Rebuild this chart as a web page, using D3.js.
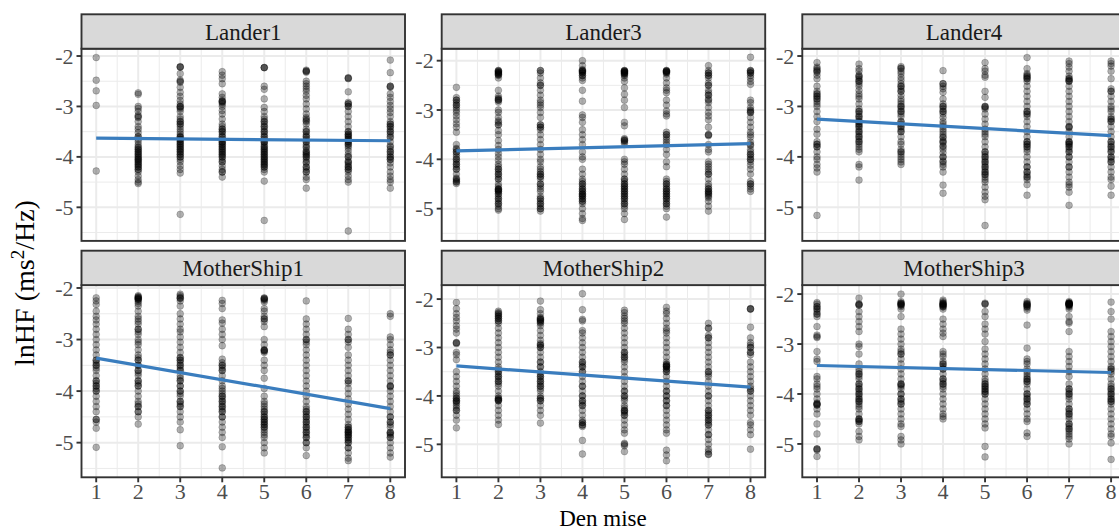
<!DOCTYPE html>
<html><head><meta charset="utf-8">
<script src="https://cdn.jsdelivr.net/npm/d3@7"></script>
<style>body{margin:0;background:#fff}svg{display:block}</style>
</head><body>
<svg id="chart" width="1119" height="531"></svg>
<script>
const panels = ["Lander1","Lander3","Lander4","MotherShip1","MotherShip2","MotherShip3"];
const xTicks = [1,2,3,4,5,6,7,8];
const yTicks = [-2,-3,-4,-5];
const yMinor = [-2.5,-3.5,-4.5,-5.5];
const xMinor = [1.5,2.5,3.5,4.5,5.5,6.5,7.5];
const yDomainLow  = [-5.666,-5.654,-5.666,-5.672,-5.681,-5.668];
const yDomainHigh = [-1.855,-1.757,-1.855,-1.944,-1.711,-1.820];
const fitAt1 = [-3.63,-3.83,-3.25,-3.36,-3.38,-3.43];
const fitAt8 = [-3.68,-3.68,-3.58,-4.34,-3.82,-3.57];

const lander1 = [
 [-2.03,-2.48,-2.69,-2.98,-4.28],
 [-2.73,-2.76,-3.0,-3.04,-3.1,-3.18,-3.22,-3.3,-3.4,-3.45,-3.52,-3.6,-3.65,-3.7,-3.76,-3.82,-3.86,-3.9,-3.94,-3.98,-4.02,-4.05,-4.08,-4.12,-4.16,-4.2,-4.25,-4.3,-4.38,-4.45,-4.5,-4.53],
 [-2.21,-2.22,-2.35,-2.48,-2.52,-2.62,-2.72,-2.8,-2.88,-2.95,-3.0,-3.02,-3.1,-3.2,-3.25,-3.3,-3.35,-3.4,-3.45,-3.5,-3.55,-3.6,-3.62,-3.66,-3.7,-3.74,-3.78,-3.82,-3.86,-3.9,-3.95,-4.0,-4.05,-4.1,-4.18,-4.25,-4.32,-5.14],
 [-2.31,-2.38,-2.45,-2.55,-2.75,-2.82,-2.88,-2.9,-2.95,-3.0,-3.08,-3.15,-3.25,-3.35,-3.4,-3.45,-3.5,-3.55,-3.6,-3.65,-3.7,-3.72,-3.76,-3.8,-3.84,-3.88,-3.92,-3.96,-4.0,-4.05,-4.1,-4.18,-4.25,-4.3,-4.4],
 [-2.23,-2.23,-2.6,-2.66,-2.85,-3.02,-3.1,-3.2,-3.25,-3.3,-3.35,-3.4,-3.45,-3.5,-3.55,-3.6,-3.65,-3.7,-3.72,-3.76,-3.8,-3.84,-3.88,-3.92,-3.96,-4.0,-4.04,-4.08,-4.12,-4.16,-4.2,-4.25,-4.3,-4.48,-5.26],
 [-2.28,-2.3,-2.5,-2.55,-2.6,-2.65,-2.7,-2.78,-2.85,-2.95,-3.05,-3.15,-3.22,-3.28,-3.35,-3.45,-3.5,-3.56,-3.6,-3.65,-3.7,-3.76,-3.82,-3.88,-3.92,-3.96,-4.0,-4.05,-4.12,-4.2,-4.25,-4.3,-4.4,-4.45,-4.62],
 [-2.43,-2.45,-2.71,-2.92,-2.95,-3.0,-3.1,-3.2,-3.3,-3.4,-3.5,-3.55,-3.58,-3.62,-3.66,-3.7,-3.74,-3.78,-3.82,-3.88,-3.95,-4.0,-4.08,-4.12,-4.16,-4.2,-4.25,-4.3,-4.38,-4.45,-4.5,-5.47],
 [-2.08,-2.33,-2.6,-2.62,-2.75,-2.82,-2.9,-2.98,-3.05,-3.12,-3.2,-3.3,-3.35,-3.4,-3.45,-3.5,-3.55,-3.62,-3.7,-3.78,-3.85,-3.9,-3.95,-4.0,-4.05,-4.12,-4.2,-4.3,-4.38,-4.45,-4.5,-4.62]
];
const lander1Extra = [
 [],
 [-3.8,-3.85,-3.9,-3.95,-4.0,-4.05,-4.1,-4.15,-4.2,-4.25,-3.6,-3.2],
 [-3.0,-3.05,-3.3,-3.35,-3.6,-3.65,-3.7,-3.75,-3.8,-3.85,-3.9,-3.95,-4.0,-2.22,-2.5],
 [-2.9,-2.92,-3.45,-3.5,-3.6,-3.7,-3.75,-3.8,-3.85,-3.9,-3.95,-4.0,-4.1,-4.3],
 [-2.23,-3.3,-3.4,-3.5,-3.6,-3.7,-3.8,-3.85,-3.9,-3.95,-4.0,-4.05,-4.1,-4.15,-4.2],
 [-2.3,-2.32,-3.25,-3.3,-3.5,-3.6,-3.7,-3.8,-3.9,-3.95,-4.0,-4.1,-4.2,-4.3],
 [-2.44,-2.95,-3.0,-3.5,-3.55,-3.6,-3.65,-3.7,-3.75,-4.0,-4.1,-4.2,-4.25],
 [-2.6,-3.35,-3.4,-3.5,-3.6,-3.8,-3.9,-4.0,-4.05]
];
const lander3 = [
 [-2.54,-2.75,-2.8,-2.85,-2.9,-2.95,-3.0,-3.05,-3.12,-3.2,-3.28,-3.35,-3.45,-3.7,-3.78,-3.85,-3.9,-3.95,-4.0,-4.05,-4.1,-4.15,-4.2,-4.3,-4.38,-4.42,-4.46,-4.49],
 [-2.2,-2.22,-2.24,-2.26,-2.28,-2.3,-2.35,-2.6,-2.72,-2.76,-2.8,-2.84,-3.0,-3.05,-3.15,-3.22,-3.3,-3.42,-3.5,-3.62,-3.72,-3.8,-3.88,-3.95,-4.02,-4.1,-4.15,-4.2,-4.25,-4.3,-4.35,-4.4,-4.5,-4.55,-4.6,-4.62,-4.65,-4.7,-4.75,-4.8,-4.85,-4.9,-4.95,-5.0,-5.03],
 [-2.2,-2.25,-2.35,-2.45,-2.5,-2.6,-2.7,-2.8,-2.85,-2.95,-3.05,-3.15,-3.3,-3.35,-3.4,-3.5,-3.6,-3.7,-3.8,-3.9,-4.0,-4.05,-4.15,-4.25,-4.3,-4.35,-4.4,-4.5,-4.55,-4.65,-4.75,-4.8,-4.85,-4.9,-4.95,-5.0,-5.05],
 [-2.0,-2.1,-2.18,-2.2,-2.22,-2.25,-2.3,-2.35,-2.4,-2.6,-2.82,-3.1,-3.15,-3.25,-3.4,-3.5,-3.6,-3.7,-3.85,-3.95,-4.0,-4.2,-4.3,-4.4,-4.45,-4.5,-4.55,-4.6,-4.65,-4.7,-4.72,-4.75,-4.8,-4.85,-4.9,-5.0,-5.1,-5.2,-5.24],
 [-2.2,-2.21,-2.22,-2.24,-2.26,-2.28,-2.3,-2.35,-2.42,-2.55,-2.68,-2.8,-2.95,-3.25,-3.32,-3.58,-3.62,-3.65,-3.68,-4.0,-4.05,-4.1,-4.2,-4.3,-4.4,-4.45,-4.5,-4.55,-4.6,-4.65,-4.7,-4.75,-4.8,-4.85,-4.9,-4.95,-5.0,-5.1,-5.22],
 [-2.2,-2.21,-2.22,-2.24,-2.27,-2.35,-2.45,-2.55,-2.6,-2.65,-2.8,-2.9,-3.02,-3.08,-3.12,-3.45,-3.5,-3.55,-3.6,-3.65,-3.7,-3.8,-3.9,-4.05,-4.15,-4.4,-4.45,-4.5,-4.55,-4.6,-4.65,-4.7,-4.75,-4.8,-4.85,-4.9,-4.95,-5.0,-5.17],
 [-2.1,-2.2,-2.25,-2.3,-2.35,-2.45,-2.5,-2.6,-2.65,-2.7,-2.78,-2.85,-2.95,-3.05,-3.12,-3.2,-3.35,-3.5,-3.52,-3.7,-3.8,-3.85,-4.05,-4.1,-4.15,-4.25,-4.3,-4.4,-4.5,-4.55,-4.6,-4.65,-4.68,-4.72,-4.78,-4.85,-4.95,-5.05],
 [-1.93,-2.2,-2.22,-2.25,-2.3,-2.35,-2.42,-2.48,-2.8,-2.85,-2.95,-3.02,-3.05,-3.15,-3.25,-3.35,-3.45,-3.5,-3.55,-3.65,-3.72,-3.8,-3.85,-3.9,-3.95,-4.0,-4.05,-4.12,-4.2,-4.3,-4.45,-4.5,-4.55,-4.6,-4.65]
];
const lander3Extra = [
 [-2.8,-2.9,-3.8,-3.85,-4.0,-4.1,-4.2,-4.4,-4.45],
 [-2.2,-2.22,-2.25,-2.28,-2.78,-2.8,-3.25,-3.3,-4.2,-4.3,-4.4,-4.6,-4.62,-4.65,-4.7,-4.8,-4.9],
 [-2.2,-2.5,-2.9,-3.3,-3.35,-4.2,-4.3,-4.35,-4.5,-4.6,-4.8,-4.9,-5.0],
 [-2.2,-2.22,-2.25,-2.3,-4.5,-4.6,-4.65,-4.7,-4.75,-4.8,-4.85],
 [-2.2,-2.22,-2.24,-2.26,-3.6,-3.62,-4.4,-4.5,-4.55,-4.6,-4.65,-4.7,-4.75,-4.8,-4.9],
 [-2.2,-2.22,-2.24,-4.5,-4.6,-4.65,-4.7,-4.75,-4.8,-4.9,-3.5],
 [-2.25,-2.3,-2.5,-2.7,-2.8,-4.2,-4.3,-4.6,-4.65,-4.7,-4.75,-3.5],
 [-2.2,-2.25,-3.0,-3.05,-3.7,-3.9,-4.0,-4.5]
];
const lander4 = [
 [-2.13,-2.22,-2.28,-2.32,-2.38,-2.45,-2.6,-2.7,-2.75,-2.8,-2.85,-2.9,-2.95,-3.0,-3.1,-3.2,-3.3,-3.45,-3.55,-3.7,-3.75,-3.8,-3.9,-4.0,-4.05,-4.15,-4.22,-4.3,-5.16],
 [-2.16,-2.25,-2.3,-2.38,-2.42,-2.46,-2.5,-2.55,-2.6,-2.68,-2.75,-2.8,-2.85,-2.95,-3.05,-3.1,-3.15,-3.2,-3.25,-3.3,-3.35,-3.4,-3.45,-3.5,-3.55,-3.6,-3.65,-3.7,-3.75,-3.8,-3.85,-3.9,-4.15,-4.2,-4.46],
 [-2.21,-2.24,-2.3,-2.35,-2.42,-2.48,-2.55,-2.6,-2.65,-2.7,-2.78,-2.85,-2.9,-2.95,-3.0,-3.05,-3.1,-3.15,-3.2,-3.3,-3.35,-3.4,-3.45,-3.5,-3.6,-3.7,-3.75,-3.85,-3.9,-3.95,-4.0,-4.05,-4.1,-4.15],
 [-2.29,-2.55,-2.6,-2.65,-2.72,-2.85,-2.95,-3.0,-3.05,-3.1,-3.15,-3.22,-3.3,-3.35,-3.4,-3.45,-3.5,-3.55,-3.62,-3.68,-3.72,-3.78,-3.85,-3.92,-4.0,-4.08,-4.15,-4.2,-4.3,-4.56,-4.72],
 [-2.13,-2.25,-2.3,-2.38,-2.42,-2.7,-2.82,-3.0,-3.02,-3.05,-3.15,-3.25,-3.35,-3.45,-3.5,-3.55,-3.6,-3.7,-3.8,-3.9,-3.95,-4.0,-4.05,-4.1,-4.15,-4.2,-4.25,-4.3,-4.35,-4.45,-4.5,-4.6,-4.7,-4.78,-4.85,-5.36],
 [-2.03,-2.25,-2.35,-2.38,-2.42,-2.45,-2.5,-2.6,-2.7,-2.8,-2.9,-3.0,-3.1,-3.15,-3.2,-3.3,-3.4,-3.5,-3.6,-3.7,-3.75,-3.8,-3.85,-3.9,-4.0,-4.1,-4.2,-4.3,-4.35,-4.4,-4.45,-4.55,-4.76],
 [-2.1,-2.15,-2.22,-2.3,-2.4,-2.45,-2.48,-2.5,-2.6,-2.7,-2.8,-2.9,-3.0,-3.1,-3.2,-3.3,-3.4,-3.42,-3.5,-3.6,-3.7,-3.72,-3.75,-3.8,-3.85,-3.9,-4.0,-4.1,-4.2,-4.3,-4.4,-4.5,-4.55,-4.6,-4.7,-4.96],
 [-2.1,-2.15,-2.2,-2.3,-2.45,-2.65,-2.7,-2.8,-2.9,-3.0,-3.05,-3.1,-3.2,-3.25,-3.3,-3.4,-3.5,-3.6,-3.7,-3.75,-3.8,-3.85,-3.9,-4.0,-4.05,-4.1,-4.2,-4.3,-4.4,-4.45,-4.58,-4.76]
];
const lander4Extra = [
 [-2.25,-2.3,-2.75,-2.8,-2.85,-3.75,-3.8],
 [-2.4,-2.5,-3.1,-3.2,-3.3,-3.35,-3.4,-3.5,-3.6,-3.7],
 [-2.25,-2.6,-2.7,-3.0,-3.1,-3.3,-3.4,-3.5,-3.9],
 [-2.55,-3.0,-3.1,-3.6,-3.7,-3.8,-4.0,-4.1],
 [-3.0,-3.9,-4.0,-4.1,-4.2,-4.3,-4.35,-4.4],
 [-2.4,-2.45,-3.1,-3.15,-3.7,-3.75,-3.8,-4.2,-4.3,-4.4],
 [-2.45,-2.5,-3.4,-3.7,-3.75,-3.8,-3.9,-4.0,-4.2],
 [-2.7,-3.25,-3.3,-3.7,-3.8,-3.9,-4.0,-4.1]
];
const motherShip1 = [
 [-2.19,-2.25,-2.32,-2.45,-2.55,-2.62,-2.7,-2.8,-2.9,-3.0,-3.1,-3.2,-3.3,-3.4,-3.45,-3.5,-3.55,-3.6,-3.7,-3.8,-3.85,-3.9,-3.95,-4.0,-4.1,-4.2,-4.3,-4.4,-4.55,-4.6,-4.72,-5.09],
 [-2.15,-2.17,-2.19,-2.21,-2.23,-2.26,-2.3,-2.35,-2.45,-2.55,-2.6,-2.65,-2.7,-2.8,-2.85,-2.9,-3.0,-3.05,-3.1,-3.2,-3.3,-3.35,-3.4,-3.5,-3.6,-3.65,-3.7,-3.8,-3.85,-3.9,-4.0,-4.1,-4.2,-4.25,-4.3,-4.4,-4.5,-4.64],
 [-2.12,-2.15,-2.2,-2.25,-2.35,-2.5,-2.6,-2.7,-2.8,-2.85,-2.95,-3.05,-3.15,-3.25,-3.35,-3.4,-3.45,-3.5,-3.55,-3.6,-3.7,-3.75,-3.8,-3.9,-4.0,-4.05,-4.1,-4.2,-4.25,-4.3,-4.4,-4.5,-4.6,-4.75,-5.06],
 [-2.24,-2.3,-2.4,-2.62,-2.68,-2.8,-2.9,-3.0,-3.12,-3.38,-3.45,-3.5,-3.55,-3.6,-3.7,-3.8,-3.9,-3.95,-4.0,-4.05,-4.1,-4.15,-4.2,-4.25,-4.3,-4.35,-4.4,-4.5,-4.6,-4.7,-4.8,-4.9,-5.08,-5.49],
 [-2.19,-2.21,-2.24,-2.27,-2.4,-2.45,-2.55,-2.6,-2.65,-2.75,-3.0,-3.1,-3.2,-3.22,-3.25,-3.4,-3.5,-3.6,-3.75,-3.95,-4.1,-4.2,-4.25,-4.3,-4.35,-4.4,-4.45,-4.5,-4.55,-4.6,-4.65,-4.7,-4.75,-4.85,-4.9,-5.0,-5.1,-5.2],
 [-2.25,-2.6,-2.7,-2.8,-2.9,-3.0,-3.05,-3.1,-3.2,-3.3,-3.4,-3.5,-3.6,-3.7,-3.8,-3.9,-4.0,-4.1,-4.2,-4.3,-4.35,-4.4,-4.45,-4.5,-4.55,-4.6,-4.65,-4.7,-4.75,-4.8,-4.85,-4.9,-5.0,-5.1,-5.25],
 [-2.59,-2.8,-2.9,-3.0,-3.05,-3.15,-3.3,-3.4,-3.5,-3.6,-3.7,-3.8,-3.85,-3.95,-4.05,-4.15,-4.25,-4.35,-4.45,-4.55,-4.65,-4.7,-4.75,-4.78,-4.8,-4.83,-4.86,-4.9,-4.95,-5.0,-5.1,-5.2,-5.3,-5.35],
 [-2.5,-2.55,-2.95,-3.0,-3.1,-3.2,-3.25,-3.3,-3.4,-3.5,-3.6,-3.7,-3.8,-3.9,-3.92,-4.0,-4.1,-4.2,-4.3,-4.4,-4.5,-4.6,-4.65,-4.7,-4.8,-4.85,-4.9,-5.0,-5.1,-5.2,-5.28]
];
const motherShip1Extra = [
 [-3.4,-3.5,-3.8,-3.9,-4.0,-4.55],
 [-2.18,-2.2,-2.22,-2.8,-3.4,-3.5,-3.6,-3.8,-3.9,-4.3,-4.4],
 [-2.18,-2.2,-3.35,-3.4,-3.5,-3.6,-3.8,-3.9,-4.0,-4.2,-4.3],
 [-3.5,-3.6,-4.1,-4.2,-4.3,-4.4,-4.5],
 [-2.2,-2.22,-2.6,-3.2,-3.22,-4.4,-4.5,-4.55,-4.6,-4.65,-4.7,-4.8],
 [-3.0,-4.4,-4.5,-4.6,-4.7,-4.8,-4.9,-5.0],
 [-3.0,-3.8,-4.7,-4.75,-4.8,-4.85,-4.9,-4.95,-5.0,-5.1],
 [-3.3,-3.9,-4.5,-4.6,-4.8,-4.82,-4.9]
];
const motherShip2 = [
 [-2.07,-2.2,-2.3,-2.38,-2.45,-2.55,-2.62,-2.7,-2.9,-2.92,-3.1,-3.15,-3.25,-3.5,-3.6,-3.7,-3.8,-3.9,-3.95,-4.0,-4.05,-4.1,-4.12,-4.2,-4.25,-4.3,-4.4,-4.5,-4.66],
 [-2.25,-2.28,-2.32,-2.36,-2.4,-2.45,-2.5,-2.6,-2.7,-2.8,-2.9,-3.0,-3.1,-3.2,-3.3,-3.4,-3.45,-3.5,-3.55,-3.6,-3.65,-3.7,-3.75,-3.8,-3.9,-4.0,-4.05,-4.08,-4.1,-4.2,-4.3,-4.4,-4.5,-4.59],
 [-2.04,-2.22,-2.3,-2.38,-2.42,-2.45,-2.48,-2.55,-2.65,-2.75,-2.85,-2.92,-2.95,-3.0,-3.1,-3.2,-3.3,-3.4,-3.5,-3.55,-3.6,-3.65,-3.7,-3.75,-3.8,-3.85,-3.9,-4.0,-4.05,-4.1,-4.2,-4.3,-4.4,-4.56],
 [-1.89,-2.22,-2.42,-2.45,-2.65,-2.7,-2.8,-2.9,-3.0,-3.1,-3.2,-3.3,-3.35,-3.4,-3.5,-3.6,-3.7,-3.8,-3.9,-4.0,-4.1,-4.15,-4.2,-4.3,-4.4,-4.5,-4.55,-4.6,-4.63,-4.92,-5.2],
 [-2.23,-2.28,-2.35,-2.4,-2.5,-2.6,-2.7,-2.8,-2.9,-3.0,-3.1,-3.15,-3.2,-3.3,-3.4,-3.5,-3.6,-3.7,-3.8,-3.9,-4.0,-4.05,-4.1,-4.2,-4.25,-4.3,-4.32,-4.4,-4.5,-4.6,-4.7,-4.77,-4.98,-5.03,-5.15],
 [-2.17,-2.25,-2.3,-2.4,-2.5,-2.6,-2.65,-2.7,-2.8,-2.9,-3.0,-3.1,-3.2,-3.3,-3.35,-3.38,-3.4,-3.45,-3.5,-3.6,-3.7,-3.8,-3.9,-4.0,-4.1,-4.2,-4.3,-4.4,-4.5,-4.6,-4.7,-4.77,-5.12,-5.22,-5.34],
 [-2.5,-2.6,-2.75,-2.8,-2.9,-3.0,-3.1,-3.2,-3.3,-3.4,-3.5,-3.55,-3.6,-3.7,-3.8,-3.9,-4.0,-4.1,-4.2,-4.3,-4.35,-4.4,-4.45,-4.5,-4.55,-4.6,-4.7,-4.8,-4.9,-5.0,-5.1,-5.15,-5.21],
 [-2.2,-2.21,-2.58,-2.8,-2.9,-2.95,-3.0,-3.1,-3.15,-3.3,-3.4,-3.5,-3.6,-3.7,-3.8,-3.85,-3.9,-4.0,-4.1,-4.2,-4.3,-4.4,-4.55,-4.6,-4.7,-4.8,-5.1]
];
const motherShip2Extra = [
 [-2.9,-4.05,-4.1,-4.15,-4.3],
 [-2.3,-2.35,-2.4,-2.45,-3.5,-3.6,-3.7,-4.05,-4.08,-4.1],
 [-2.4,-2.42,-2.45,-2.5,-2.95,-3.0,-3.3,-3.4,-3.6,-3.7,-3.8,-4.05,-4.1],
 [-3.3,-3.4,-3.5,-3.8,-4.0,-4.1,-4.2,-4.55,-4.6],
 [-2.45,-3.1,-3.2,-3.25,-3.9,-4.0,-4.3,-4.35,-4.4,-5.0],
 [-3.35,-3.38,-3.4,-3.45,-3.5,-3.9,-4.0,-4.1,-4.2],
 [-2.6,-2.8,-3.5,-4.0,-4.3,-4.4,-4.5,-4.6,-4.8,-5.2],
 [-2.2,-3.0,-3.1,-3.9]
];
const motherShip3 = [
 [-2.17,-2.2,-2.25,-2.3,-2.35,-2.4,-2.45,-2.65,-2.82,-2.87,-3.15,-3.3,-3.35,-3.65,-3.7,-3.8,-3.85,-3.9,-4.0,-4.1,-4.18,-4.2,-4.22,-4.3,-4.4,-4.6,-4.8,-5.1,-5.12,-5.25],
 [-2.08,-2.2,-2.22,-2.35,-2.45,-2.55,-2.65,-2.75,-3.0,-3.05,-3.2,-3.4,-3.5,-3.55,-3.6,-3.65,-3.7,-3.8,-3.85,-3.9,-3.95,-4.0,-4.05,-4.1,-4.15,-4.2,-4.25,-4.3,-4.4,-4.5,-4.52,-4.55,-4.6,-4.75,-4.85,-4.92],
 [-2.0,-2.15,-2.18,-2.2,-2.22,-2.25,-2.3,-2.45,-2.7,-2.8,-2.9,-3.0,-3.1,-3.15,-3.2,-3.3,-3.4,-3.5,-3.6,-3.7,-3.8,-3.82,-3.9,-4.0,-4.1,-4.15,-4.2,-4.3,-4.4,-4.5,-4.6,-4.65,-4.85,-4.92,-5.0],
 [-2.12,-2.15,-2.18,-2.2,-2.22,-2.24,-2.26,-2.3,-2.5,-2.6,-2.7,-2.78,-2.85,-3.15,-3.2,-3.25,-3.35,-3.4,-3.45,-3.5,-3.6,-3.7,-3.75,-3.8,-3.85,-3.9,-4.0,-4.1,-4.2,-4.3,-4.4,-4.45,-4.5],
 [-2.18,-2.2,-2.35,-2.45,-2.6,-2.7,-2.8,-2.95,-3.1,-3.2,-3.3,-3.4,-3.5,-3.6,-3.7,-3.75,-3.8,-3.85,-3.9,-3.95,-4.0,-4.1,-4.2,-4.3,-4.4,-4.5,-4.6,-4.68,-5.05,-5.26],
 [-2.15,-2.18,-2.2,-2.22,-2.25,-2.28,-2.32,-2.62,-3.08,-3.3,-3.35,-3.4,-3.5,-3.55,-3.6,-3.65,-3.7,-3.75,-3.8,-3.9,-4.0,-4.05,-4.1,-4.15,-4.2,-4.3,-4.4,-4.5,-4.55,-4.78,-4.85],
 [-2.15,-2.17,-2.18,-2.19,-2.2,-2.21,-2.22,-2.24,-2.26,-2.3,-2.45,-2.55,-2.58,-2.75,-3.15,-3.25,-3.35,-3.45,-3.55,-3.65,-3.8,-3.9,-3.95,-4.0,-4.05,-4.1,-4.2,-4.3,-4.35,-4.4,-4.45,-4.5,-4.6,-4.65,-4.7,-4.75,-4.8,-4.85,-4.9,-5.0],
 [-2.16,-2.35,-2.5,-2.75,-2.85,-2.95,-3.05,-3.15,-3.25,-3.35,-3.45,-3.5,-3.55,-3.6,-3.7,-3.8,-3.85,-3.9,-3.95,-4.0,-4.05,-4.1,-4.15,-4.2,-4.3,-4.4,-4.5,-4.6,-4.7,-4.8,-4.85,-4.98,-5.31]
];
const motherShip3Extra = [
 [-2.25,-2.3,-2.4,-2.85,-4.2,-4.22,-5.1],
 [-2.2,-2.22,-3.6,-3.8,-3.9,-4.0,-4.1,-4.15,-4.5,-4.55],
 [-2.18,-2.2,-2.22,-3.2,-3.8,-3.85,-4.0,-4.1,-4.2],
 [-2.18,-2.2,-2.22,-2.25,-3.4,-3.5,-3.7,-3.8],
 [-2.2,-3.8,-3.85,-3.9,-3.95,-4.0],
 [-2.2,-2.22,-2.25,-3.7,-3.75,-4.0,-4.1,-4.2],
 [-2.18,-2.2,-2.22,-2.2,-2.19,-4.3,-4.4,-4.6,-4.7,-3.9,-4.0],
 [-3.5,-3.9,-4.0,-4.1,-4.15]
];
const panelData = [lander1, lander3, lander4, motherShip1, motherShip2, motherShip3];
const panelExtra = [lander1Extra, lander3Extra, lander4Extra, motherShip1Extra, motherShip2Extra, motherShip3Extra];

const FONT = "'Liberation Serif','Times New Roman',serif";
const colLeft = [81.5, 441.7, 802.3];
const panelW = 323.5;
const stripTop = [14.3, 250.7];
const stripH = 34.4;
const panelH = 192.2;
const svg = d3.select("#chart");
const grid = "#EBEBEB", dark = "#333333", tickCol = "#4D4D4D";

panels.forEach((name, i) => {
  const col = i % 3, row = Math.floor(i / 3);
  const x0 = colLeft[col], sTop = stripTop[row], pTop = sTop + stripH;
  const x = d3.scaleLinear().domain([0.65, 8.35]).range([x0, x0 + panelW]);
  const y = d3.scaleLinear().domain([yDomainLow[i], yDomainHigh[i]]).range([pTop + panelH, pTop]);
  const g = svg.append("g");
  const clipId = "clip" + i;
  svg.append("clipPath").attr("id", clipId).append("rect")
    .attr("x", x0).attr("y", pTop).attr("width", panelW).attr("height", panelH);
  g.append("rect").attr("x", x0).attr("y", pTop).attr("width", panelW).attr("height", panelH).attr("fill", "#fff");
  const gg = g.append("g").attr("clip-path", `url(#${clipId})`);
  gg.selectAll(".ymin").data(yMinor).join("line")
    .attr("x1", x0).attr("x2", x0 + panelW).attr("y1", d => y(d)).attr("y2", d => y(d))
    .attr("stroke", grid).attr("stroke-width", 1);
  gg.selectAll(".xmin").data(xMinor).join("line")
    .attr("y1", pTop).attr("y2", pTop + panelH).attr("x1", d => x(d)).attr("x2", d => x(d))
    .attr("stroke", grid).attr("stroke-width", 1);
  gg.selectAll(".ymaj").data(yTicks).join("line")
    .attr("x1", x0).attr("x2", x0 + panelW).attr("y1", d => y(d)).attr("y2", d => y(d))
    .attr("stroke", grid).attr("stroke-width", 2);
  gg.selectAll(".xmaj").data(xTicks).join("line")
    .attr("y1", pTop).attr("y2", pTop + panelH).attr("x1", d => x(d)).attr("x2", d => x(d))
    .attr("stroke", grid).attr("stroke-width", 2);
  const pts = [];
  panelData[i].forEach((vals, k) => vals.forEach(v => pts.push({x: xTicks[k], y: v})));
  panelExtra[i].forEach((vals, k) => vals.forEach(v => pts.push({x: xTicks[k], y: v})));
  gg.selectAll("circle").data(pts).join("circle")
    .attr("cx", d => x(d.x)).attr("cy", d => y(d.y)).attr("r", 3.4)
    .attr("fill", "#000").attr("fill-opacity", 0.3)
    .attr("stroke", "#000").attr("stroke-opacity", 0.25).attr("stroke-width", 0.8);
  gg.append("line")
    .attr("x1", x(1)).attr("y1", y(fitAt1[i])).attr("x2", x(8)).attr("y2", y(fitAt8[i]))
    .attr("stroke", "#3A7DBE").attr("stroke-width", 3.2);
  g.append("rect").attr("x", x0).attr("y", pTop).attr("width", panelW).attr("height", panelH)
    .attr("fill", "none").attr("stroke", dark).attr("stroke-width", 1.9);
  g.append("rect").attr("x", x0).attr("y", sTop).attr("width", panelW).attr("height", stripH)
    .attr("fill", "#D9D9D9").attr("stroke", dark).attr("stroke-width", 1.9);
  g.append("text").attr("x", x0 + panelW / 2).attr("y", sTop + 25.3)
    .attr("text-anchor", "middle").attr("font-family", FONT).attr("font-size", 23)
    .attr("fill", "#1A1A1A").text(name);
  const ya = g.append("g");
  ya.selectAll("line").data(yTicks).join("line")
    .attr("x1", x0 - 5).attr("x2", x0).attr("y1", d => y(d)).attr("y2", d => y(d))
    .attr("stroke", dark).attr("stroke-width", 1.9);
  ya.selectAll("text").data(yTicks).join("text")
    .attr("x", x0 - 8).attr("y", d => y(d) + 7.6).attr("text-anchor", "end")
    .attr("font-family", FONT).attr("font-size", 22).attr("fill", tickCol)
    .text(d => d3.format("d")(d).replace("−", "-"));
  if (row === 1) {
    const xa = g.append("g");
    xa.selectAll("line").data(xTicks).join("line")
      .attr("y1", pTop + panelH).attr("y2", pTop + panelH + 5).attr("x1", d => x(d)).attr("x2", d => x(d))
      .attr("stroke", dark).attr("stroke-width", 1.9);
    xa.selectAll("text").data(xTicks).join("text")
      .attr("x", d => x(d)).attr("y", pTop + panelH + 22).attr("text-anchor", "middle")
      .attr("font-family", FONT).attr("font-size", 22).attr("fill", tickCol).text(d => d);
  }
});

svg.append("text").attr("x", 603).attr("y", 525.8).attr("text-anchor", "middle")
  .attr("font-family", FONT).attr("font-size", 23).attr("fill", "#000").text("Den mise");
const yt = svg.append("text").attr("transform", "translate(34,283) rotate(-90)")
  .attr("text-anchor", "middle").attr("font-family", FONT).attr("font-size", 28).attr("fill", "#000");
yt.append("tspan").text("lnHF (ms");
yt.append("tspan").attr("dy", -10).attr("font-size", 19).text("2");
yt.append("tspan").attr("dy", 10).text("/Hz)");
</script>
</body></html>
